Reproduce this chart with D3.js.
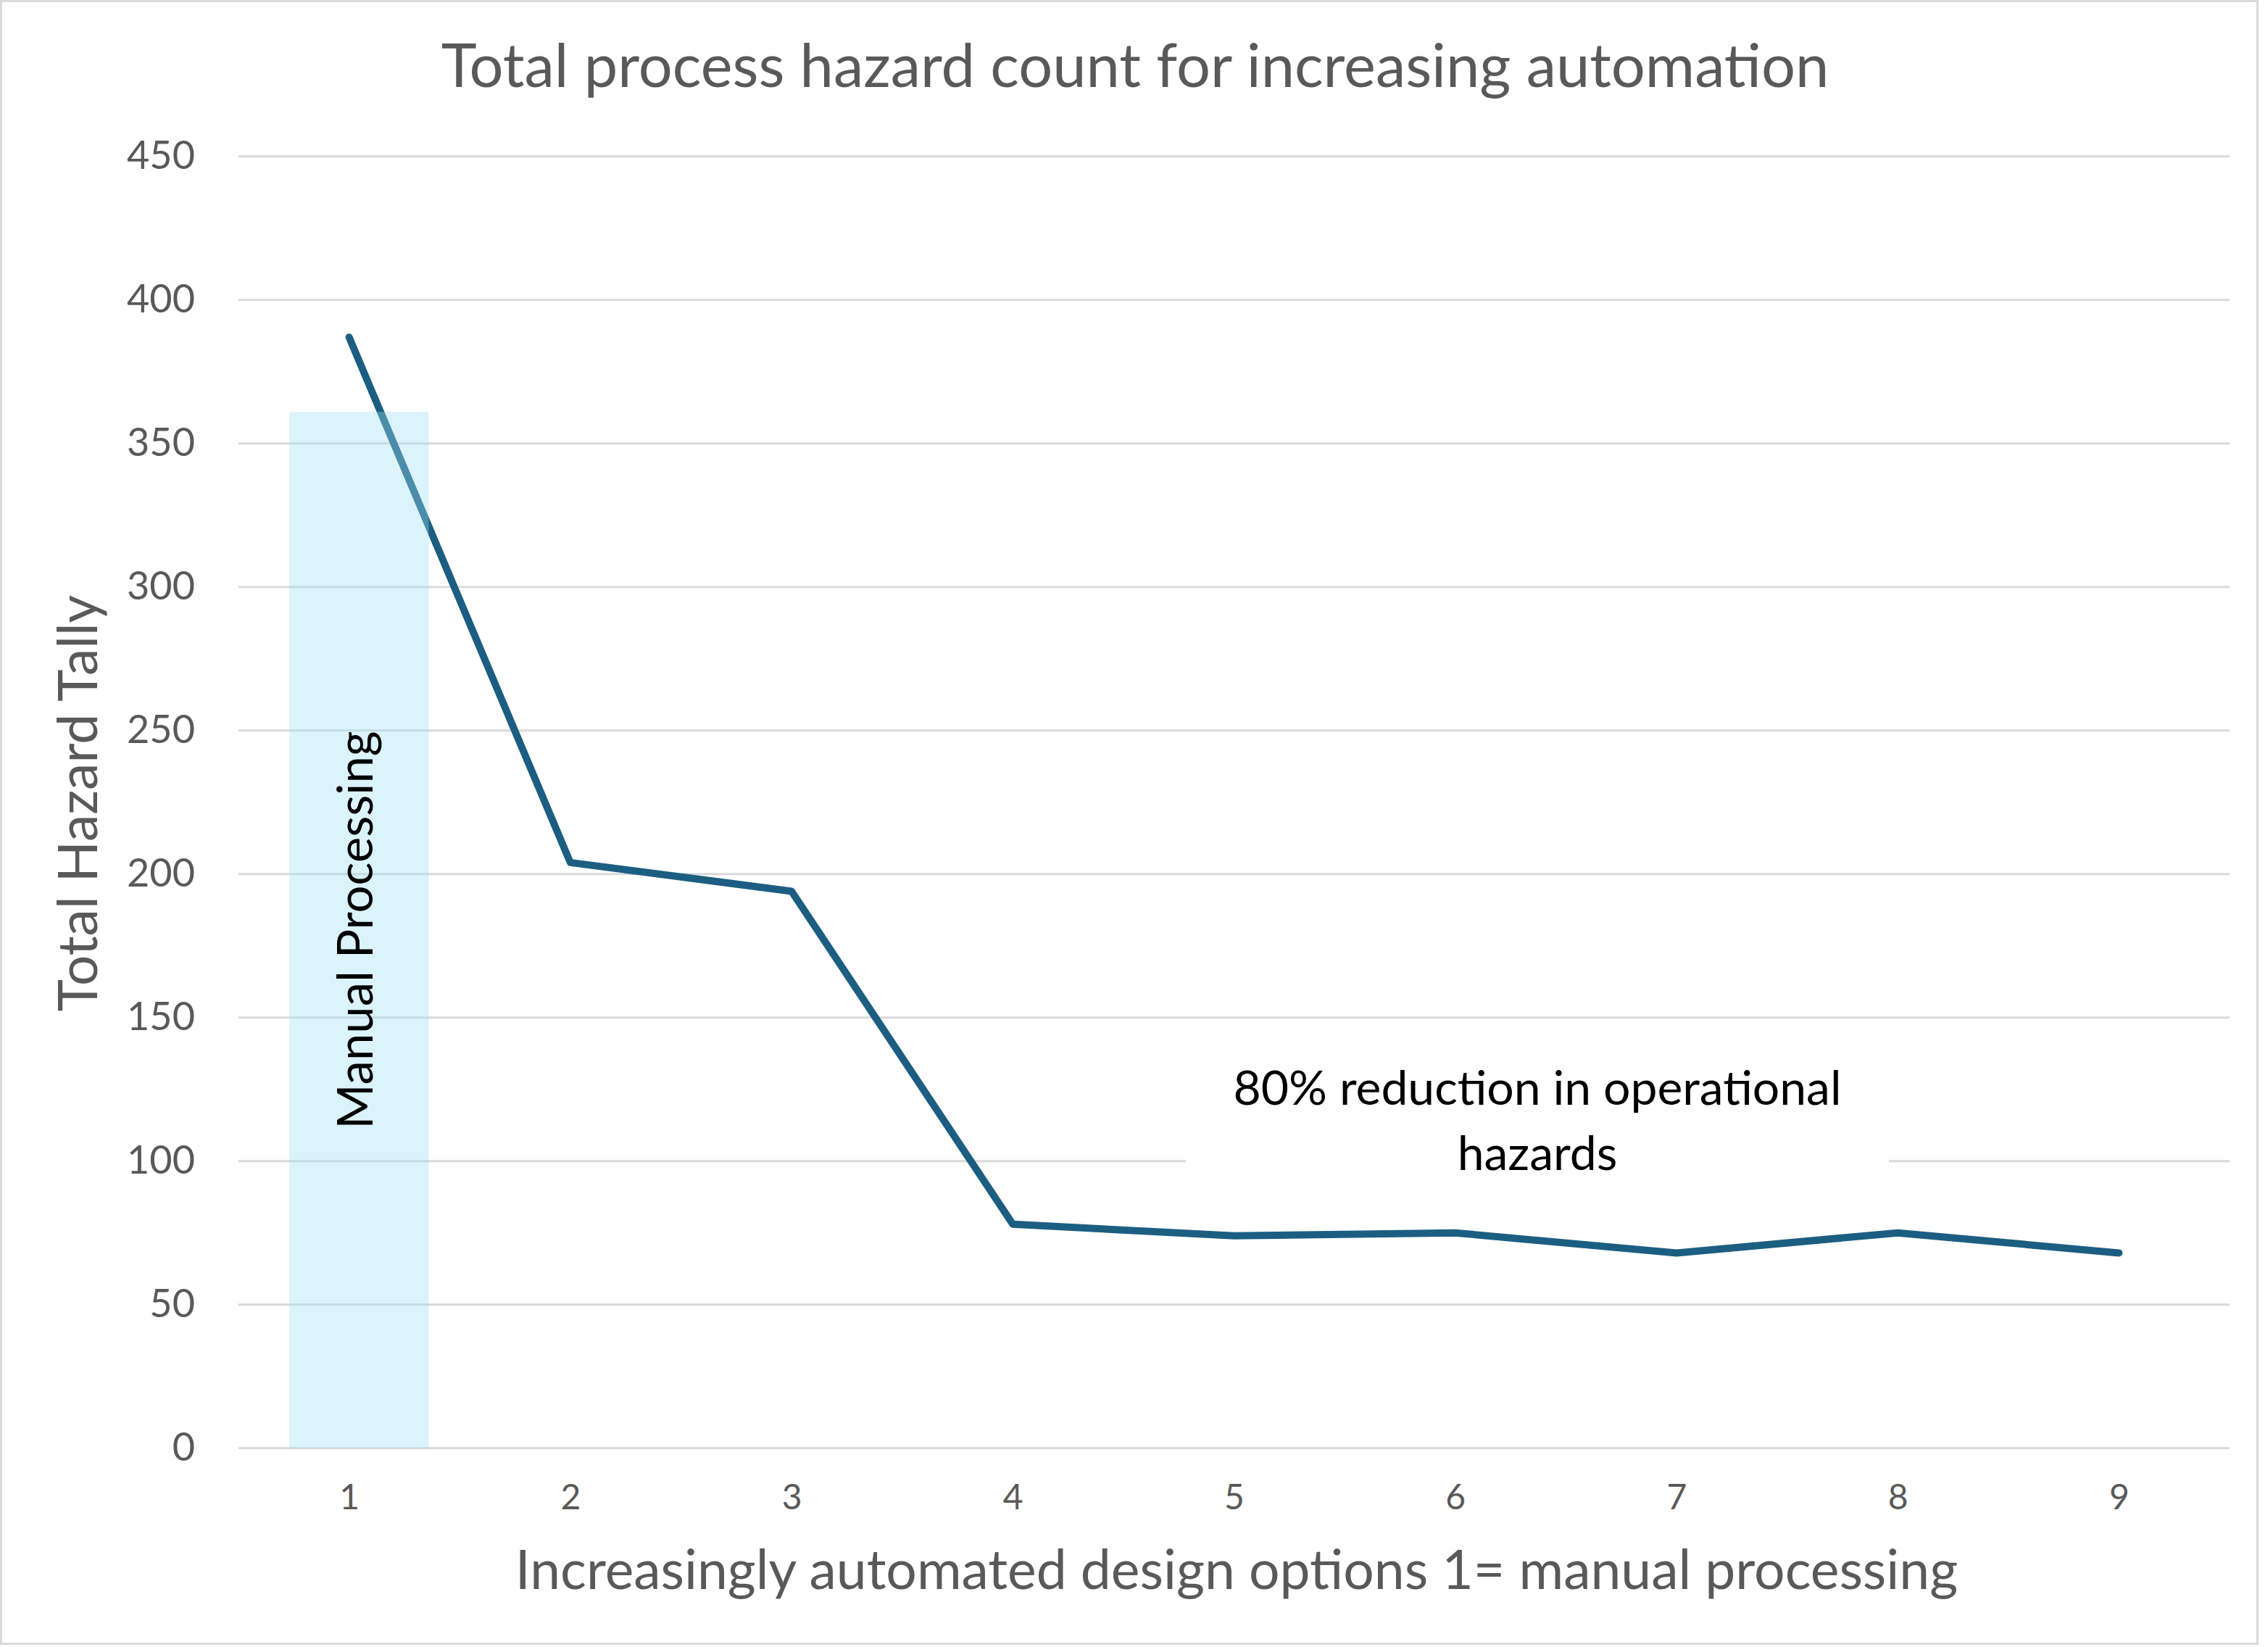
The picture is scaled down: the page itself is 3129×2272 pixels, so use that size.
<!DOCTYPE html>
<html>
<head>
<meta charset="utf-8">
<script src="https://cdn.jsdelivr.net/npm/d3@7"></script>
<style>
  body { margin: 0; background: #fff; }
  svg { display: block; }
</style>
</head>
<body>
<svg id="chart"></svg>
<script>
// chart data
const options = [1, 2, 3, 4, 5, 6, 7, 8, 9];
const hazardTally = [387, 204, 194, 78, 74, 75, 68, 75, 68];
const yTicks = [0, 50, 100, 150, 200, 250, 300, 350, 400, 450];
// shaded "manual processing" region (x from/to in option units, height in tally)
const manualBand = { x0: 0.73, x1: 1.36, top: 361 };

const width = 3129;
const height = 2272;
const plot = { left: 329, right: 3076, top: 215.7, bottom: 1997.7 };
const font = 'Lato, "Open Sans", sans-serif';

const svg = d3.select('#chart').attr('width', width).attr('height', height);

svg.append('rect')
  .attr('x', 1.5).attr('y', 1.5)
  .attr('width', width - 16).attr('height', height - 6)
  .attr('fill', '#fff')
  .attr('stroke', '#d9d9d9')
  .attr('stroke-width', 3);

const x = d3.scaleLinear().domain([0.5, 9.5]).range([plot.left, plot.right]);
const y = d3.scaleLinear().domain([0, 450]).range([plot.bottom, plot.top]);

// gridlines
svg.append('g')
  .selectAll('line')
  .data(yTicks)
  .enter()
  .append('line')
  .attr('x1', plot.left)
  .attr('x2', plot.right)
  .attr('y1', (d) => y(d))
  .attr('y2', (d) => y(d))
  .attr('stroke', '#d9d9d9')
  .attr('stroke-width', 3);

// y axis labels
const yAxis = svg.append('g')
  .attr('transform', `translate(${plot.left - 60},0)`)
  .call(d3.axisLeft(y).tickValues(yTicks).tickSize(0).tickPadding(0));
yAxis.select('.domain').remove();
yAxis.selectAll('text')
  .attr('font-family', font)
  .attr('font-size', 54)
  .attr('fill', '#595959');

// x axis labels
const xAxis = svg.append('g')
  .attr('transform', `translate(0,${plot.bottom + 50})`)
  .call(d3.axisBottom(x).tickValues(options).tickSize(0).tickPadding(0));
xAxis.select('.domain').remove();
xAxis.selectAll('text')
  .attr('font-family', font)
  .attr('font-size', 48)
  .attr('fill', '#595959');

// hazard line
const line = d3.line()
  .x((d, i) => x(options[i]))
  .y((d) => y(d));

svg.append('path')
  .datum(hazardTally)
  .attr('d', line)
  .attr('fill', 'none')
  .attr('stroke', '#1b5e82')
  .attr('stroke-width', 10)
  .attr('stroke-linejoin', 'round')
  .attr('stroke-linecap', 'round');

// manual processing shading, drawn over the line
svg.append('rect')
  .attr('x', x(manualBand.x0))
  .attr('y', y(manualBand.top))
  .attr('width', x(manualBand.x1) - x(manualBand.x0))
  .attr('height', y(0) - y(manualBand.top))
  .attr('fill', 'rgb(157,222,241)')
  .attr('opacity', 0.37);

svg.append('text')
  .attr('transform', `translate(${x((manualBand.x0 + manualBand.x1) / 2) + 2},1283) rotate(-90)`)
  .attr('text-anchor', 'middle')
  .attr('dominant-baseline', 'middle')
  .attr('font-family', font)
  .attr('font-size', 67)
  .attr('fill', '#000')
  .text('Manual Processing');

// reduction annotation with white box behind
svg.append('rect')
  .attr('x', 1636).attr('y', 1430)
  .attr('width', 970).attr('height', 230)
  .attr('fill', '#fff');

const note = svg.append('text')
  .attr('x', 2121)
  .attr('text-anchor', 'middle')
  .attr('font-family', font)
  .attr('font-size', 66)
  .attr('fill', '#000');
note.append('tspan').attr('x', 2121).attr('y', 1524).text('80% reduction in operational');
note.append('tspan').attr('x', 2121).attr('y', 1614).text('hazards');

// titles
svg.append('text')
  .attr('x', 1566)
  .attr('y', 120)
  .attr('text-anchor', 'middle')
  .attr('font-family', font)
  .attr('font-size', 83)
  .attr('fill', '#595959')
  .text('Total process hazard count for increasing automation');

svg.append('text')
  .attr('x', 1706)
  .attr('y', 2192)
  .attr('text-anchor', 'middle')
  .attr('font-family', font)
  .attr('font-size', 75)
  .attr('fill', '#595959')
  .text('Increasingly automated design options 1= manual processing');

svg.append('text')
  .attr('transform', 'translate(134,1108) rotate(-90)')
  .attr('text-anchor', 'middle')
  .attr('font-family', font)
  .attr('font-size', 75)
  .attr('fill', '#595959')
  .text('Total Hazard Tally');
</script>
</body>
</html>
